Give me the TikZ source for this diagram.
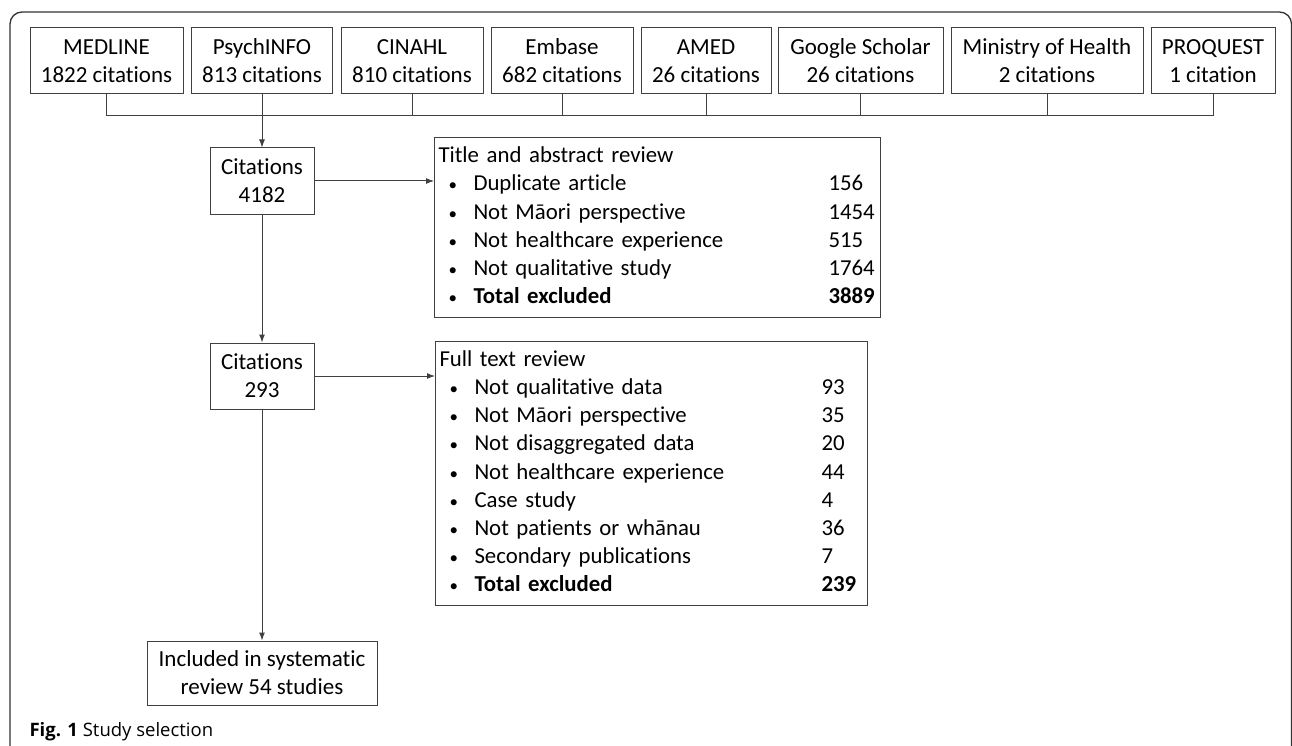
\documentclass[tikz,border=0pt]{standalone}
\usepackage{fontspec}
\setmainfont{Carlito}[Ligatures=NoCommon]
\newfontfamily\capfont{Open Sans}
\usetikzlibrary{arrows.meta}

\tikzstyle{srcbox}=[rectangle, draw=black!75, line width=1pt,
                    align=center, minimum height=66pt, inner sep=0pt]
\tikzstyle{citbox}=[rectangle, draw=black!75, line width=1pt,
                    align=center, minimum width=104pt, minimum height=66pt, inner sep=0pt]
\tikzstyle{revbox}=[rectangle, draw=black!75, line width=1pt, anchor=north west,
                    align=left, inner xsep=4pt, inner ysep=0pt,
                    font=\fontsize{22.8}{28.2}\selectfont]
\tikzstyle{connect}=[draw=black!75, line width=1pt]
\tikzstyle{flow}=[connect, -{Latex[length=8pt, width=6pt]}]

\newcommand{\bul}{{\fontsize{17}{28}\selectfont\textbullet}}

\begin{document}
\begin{tikzpicture}[x=1pt, y=-1pt, font=\fontsize{23}{28}\selectfont]
\useasboundingbox (0,0) rectangle (1292,746);

% frame
\draw[black!80, line width=1.3pt, rounded corners=12pt] (10,780) -- (10,12) -- (1291.5,12) -- (1291.5,780);

%%%%%%%%%%%%%%%%%%%%%%%%%%%%%%
% nodes

% sources
\node (medline) at (106.5,61) [srcbox, minimum width=153pt] {MEDLINE\\1822 citations};
\node (psych) at (262,61) [srcbox, minimum width=141pt] {PsychINFO\\813 citations};
\node (cinahl) at (412,61) [srcbox, minimum width=142pt] {CINAHL\\810 citations};
\node (embase) at (562,61) [srcbox, minimum width=142pt] {Embase\\682 citations};
\node (amed) at (706,61) [srcbox, minimum width=130pt] {AMED\\26 citations};
\node (google) at (860.5,61) [srcbox, minimum width=165pt] {Google Scholar\\26 citations};
\node (ministry) at (1047,61) [srcbox, minimum width=192pt] {Ministry of Health\\2 citations};
\node (proquest) at (1213,61) [srcbox, minimum width=124pt] {PROQUEST\\1 citation};

\coordinate (bar) at (0,116);

% counts
\node (cit_a) at (262,181) [citbox] {Citations\\4182};
\node (cit_b) at (262,376) [citbox] {Citations\\293};
\node (incl) at (262,673) [citbox, minimum width=230pt, minimum height=64pt] {Included in systematic\\review 54 studies};

% reviews
\node (abstract) at (434,137) [revbox, text width=438pt, minimum height=180pt] {%
\begin{tabular}{@{\hspace{10pt}}p{25pt}@{}p{355pt}@{}l@{}}
\multicolumn{3}{@{}l@{}}{Title and abstract review}\\
\bul & Duplicate article & 156\\
\bul & Not Māori perspective & 1454\\
\bul & Not healthcare experience & 515\\
\bul & Not qualitative study & 1764\\
\bul & \textbf{Total excluded} & \textbf{3889}
\end{tabular}};

\node (fulltext) at (435,341) [revbox, text width=424pt, minimum height=264pt] {%
\begin{tabular}{@{\hspace{10pt}}p{25pt}@{}p{347pt}@{}l@{}}
\multicolumn{3}{@{}l@{}}{Full text review}\\
\bul & Not qualitative data & 93\\
\bul & Not Māori perspective & 35\\
\bul & Not disaggregated data & 20\\
\bul & Not healthcare experience & 44\\
\bul & Case study & 4\\
\bul & Not patients or whānau & 36\\
\bul & Secondary publications & 7\\
\bul & \textbf{Total excluded} & \textbf{239}
\end{tabular}};

% caption
\node (cap) at (26,736) [anchor=base west, font=\capfont\fontsize{18.5}{21}\selectfont] {\textbf{Fig. 1} Study selection};

%%%%%%%%%%%%%%%%%%%%%%%%%%%%%%
% links

% sources to bar
\draw [connect] (medline.south) -- (medline.south |- bar);
\draw [connect] (psych.south) -- (psych.south |- bar);
\draw [connect] (cinahl.south) -- (cinahl.south |- bar);
\draw [connect] (embase.south) -- (embase.south |- bar);
\draw [connect] (amed.south) -- (amed.south |- bar);
\draw [connect] (google.south) -- (google.south |- bar);
\draw [connect] (ministry.south) -- (ministry.south |- bar);
\draw [connect] (proquest.south) -- (proquest.south |- bar);
\draw [connect] (medline.south |- bar) -- (proquest.south |- bar);

% main column
\draw [flow] (cit_a.north |- bar) -- (cit_a.north);
\draw [flow] (cit_a.south) -- (cit_b.north);
\draw [flow] (cit_b.south) -- (incl.north);

% exclusions
\draw [flow] (cit_a.east) -- (cit_a.east -| abstract.west);
\draw [flow] (cit_b.east) -- (cit_b.east -| fulltext.west);

\end{tikzpicture}
\end{document}
